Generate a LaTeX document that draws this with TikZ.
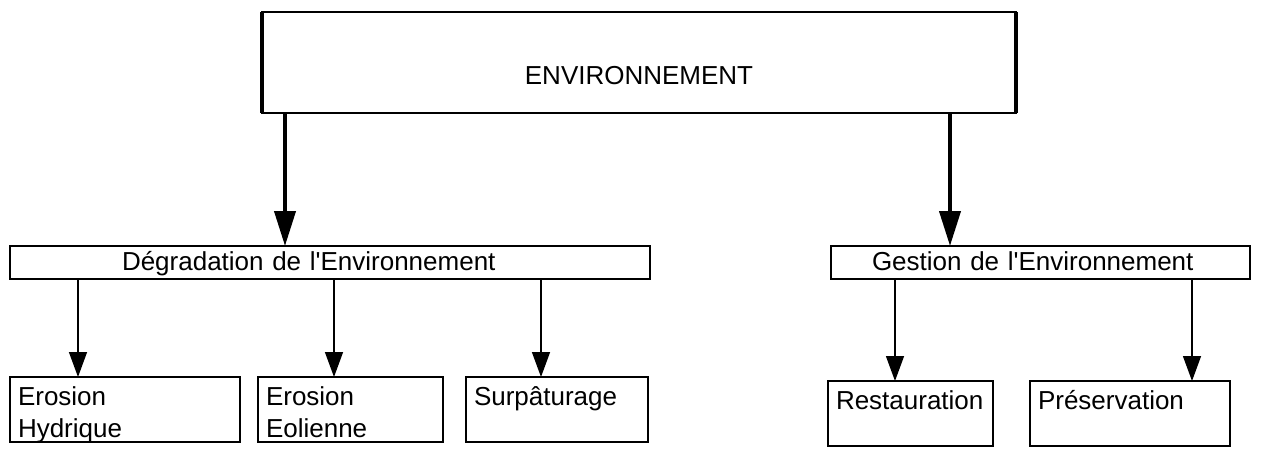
\documentclass[tikz,border=0pt]{standalone}
\usepackage{fontspec}
\setmainfont{Liberation Sans}
\usetikzlibrary{arrows.meta}
\begin{document}
\begin{tikzpicture}[x=1pt,y=-1pt,
  box/.style={draw, rectangle, inner sep=0pt, outer sep=0pt, line width=1.6pt,
    font=\fontsize{26}{32}\selectfont},
  leaf/.style={box, line width=1.8pt, anchor=north west, align=left, text height=28pt,
    text depth=37pt, inner xsep=8pt},
  bigarr/.style={line width=4pt, -{Triangle[length=35pt,width=21pt]}},
  smallarr/.style={line width=1.4pt, -{Triangle[length=25pt,width=18pt]}}]
\useasboundingbox (0,0) rectangle (1261,451);
% top box
\node[box, line width=2.6pt, anchor=north west, minimum width=754pt,
  text height=72pt, text depth=29pt] (env) at (262,12) {ENVIRONNEMENT};
\draw[line width=4.5pt] (env.north west) -- (env.south west);
\draw[line width=4.5pt] (env.north east) -- (env.south east);
% second level
\node[box, anchor=north west, align=left, inner xsep=112pt, text width=416pt,
  text height=24pt, text depth=9pt]
  (deg) at (10,246) {Dégradation de l\textquotesingle Environnement};
\node[box, anchor=north west, align=left, inner xsep=41pt, text width=337pt,
  text height=24pt, text depth=9pt]
  (ges) at (831,246) {Gestion de l\textquotesingle Environnement};
% leaves
\node[leaf, minimum width=230pt, text width=214pt] (hyd) at (10,377) {Erosion\\Hydrique};
\node[leaf, minimum width=185pt, text width=169pt] (eol) at (258,377) {Erosion\\Eolienne};
\node[leaf, minimum width=182pt, text width=166pt] (sur) at (466,377) {Surpâturage};
\node[leaf, minimum width=165pt, text width=149pt] (res) at (828,381) {Restauration};
\node[leaf, minimum width=200pt, text width=184pt] (pre) at (1030,381) {Préservation};
% connectors
\draw[bigarr] ([xshift=23pt]env.south west) -- ([xshift=275pt]deg.north west);
\draw[bigarr] ([xshift=688pt]env.south west) -- ([xshift=119pt]ges.north west);
\draw[smallarr] ([xshift=68pt]deg.south west) -- ([xshift=68pt]hyd.north west);
\draw[smallarr] ([xshift=324pt]deg.south west) -- ([xshift=76pt]eol.north west);
\draw[smallarr] ([xshift=531pt]deg.south west) -- ([xshift=75pt]sur.north west);
\draw[smallarr] ([xshift=64pt]ges.south west) -- ([xshift=67pt]res.north west);
\draw[smallarr] ([xshift=361pt]ges.south west) -- ([xshift=162pt]pre.north west);
\end{tikzpicture}
\end{document}
